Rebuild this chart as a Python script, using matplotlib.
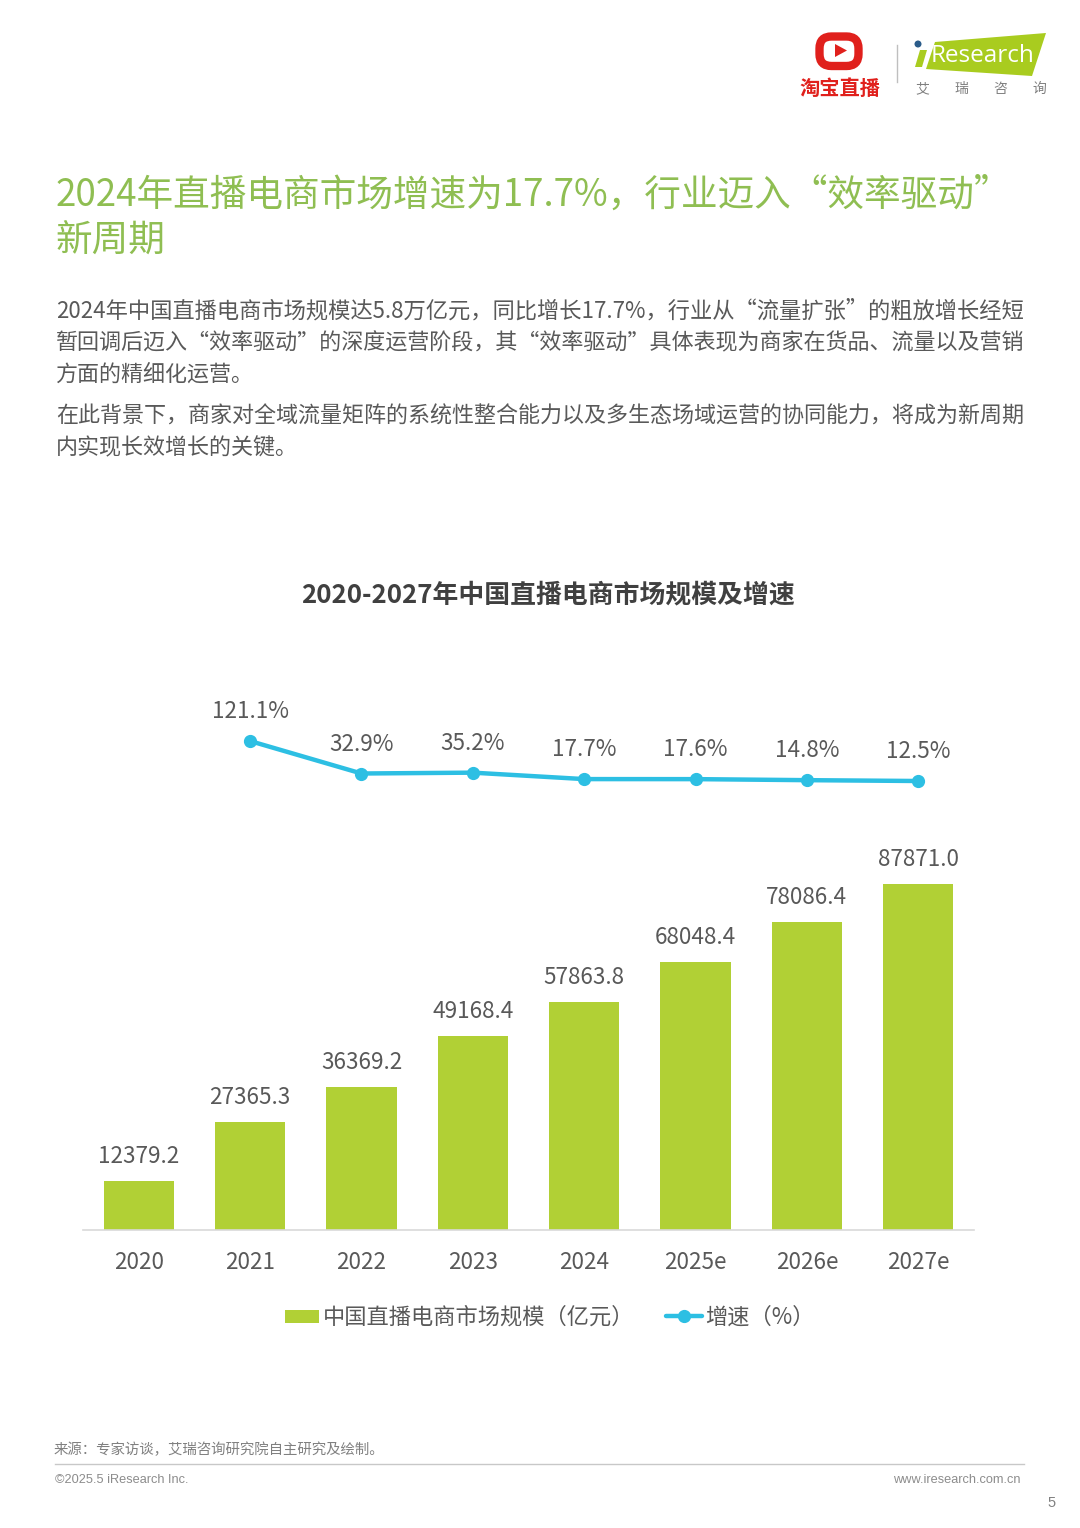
import matplotlib
matplotlib.use('Agg')
import matplotlib.pyplot as plt
from matplotlib.patches import FancyBboxPatch, Polygon, Circle

plt.rcParams['font.family'] = ['Noto Sans CJK SC', 'DejaVu Sans']

years = ['2020', '2021', '2022', '2023', '2024', '2025e', '2026e', '2027e']
market_size = [12379.2, 27365.3, 36369.2, 49168.4, 57863.8, 68048.4, 78086.4, 87871.0]
growth = [None, 121.1, 32.9, 35.2, 17.7, 17.6, 14.8, 12.5]

title_lines = ['2024年直播电商市场增速为17.7%，行业迈入“效率驱动”', '新周期']
body_lines = [
    '2024年中国直播电商市场规模达5.8万亿元，同比增长17.7%，行业从“流量扩张”的粗放增长经短',
    '暂回调后迈入“效率驱动”的深度运营阶段，其“效率驱动”具体表现为商家在货品、流量以及营销',
    '方面的精细化运营。',
    '在此背景下，商家对全域流量矩阵的系统性整合能力以及多生态场域运营的协同能力，将成为新周期',
    '内实现长效增长的关键。',
]
body_y = [318, 349, 381, 423, 454]
body_size = [16.05, 15.89, 15.86, 15.86, 15.86]
chart_title = '2020-2027年中国直播电商市场规模及增速'
legend_bar = '中国直播电商市场规模（亿元）'
legend_line = '增速（%）'
source = '来源：专家访谈，艾瑞咨询研究院自主研究及绘制。'

W, H = 1080, 1528
GREEN, BLUE, GREY = '#B1D035', '#2DBFE3', '#595959'
RED = '#E0201C'
fig = plt.figure(figsize=(W / 100, H / 100), dpi=100, facecolor='white')

# page overlay in pixel coordinates
pg = fig.add_axes([0, 0, 1, 1])
pg.set_xlim(0, W)
pg.set_ylim(H, 0)
pg.axis('off')

# title and body
for s, y in zip(title_lines, [206, 251]):
    pg.text(56, y, s, fontsize=26.4, color='#8FBE52', va='baseline', ha='left')
for s, y, fs in zip(body_lines, body_y, body_size):
    pg.text(56, y, s, fontsize=fs, color=GREY, va='baseline', ha='left')
pg.text(548, 595, chart_title, fontsize=18.6, color='#404040', fontweight='bold', va='center', ha='center')

# logos
pg.add_patch(FancyBboxPatch((819.5, 36.5), 39, 29.5, boxstyle='round,pad=0,rounding_size=12',
                            fc='white', ec=RED, lw=6))
pg.add_patch(Polygon([[835, 44], [835, 57], [847, 50.5]], fc=RED, ec='none'))
pg.text(840, 88, '淘宝直播', fontsize=14.6, color=RED, fontweight='bold', va='center', ha='center')
pg.plot([896.5, 896.5], [45, 82], color='#BFBFBF', lw=1)
pg.add_patch(Polygon([[935, 42], [1046, 33], [1032, 76], [926, 69]], fc='#A9CC1F', ec='none'))
pg.add_patch(Polygon([[915, 67], [922, 67], [927, 50], [920, 50]], fc='#A9CC1F', ec='none'))
pg.add_patch(Circle((918, 44), 3.5, fc='#2B5C8A', ec='none'))
pg.text(931, 56, 'Research', fontsize=17.5, color='white', family='Open Sans', va='center', ha='left')
for s, x in zip('艾瑞咨询', [922, 961, 1000, 1039]):
    pg.text(x, 89, s, fontsize=10, color='#7F7F7F', va='center', ha='center')

# bars
ax = fig.add_axes([83 / W, 1 - 1230 / H, 891 / W, 393.8 / H], facecolor='none')
ax.bar(range(len(years)), market_size, width=0.63, color=GREEN)
ax.set_xlim(-0.5, len(years) - 0.5)
ax.set_ylim(0, 100000)
for i, v in enumerate(market_size):
    ax.annotate(f'{v:.1f}', (i, v), xytext=(0, 13), textcoords='offset pixels',
                ha='center', va='bottom', fontsize=16.2, color=GREY)
ax.set_xticks(range(len(years)), years)
ax.tick_params(axis='x', length=0, pad=15, labelsize=16.2, labelcolor=GREY)
ax.set_yticks([])
for k in ['top', 'left', 'right']:
    ax.spines[k].set_visible(False)
ax.spines['bottom'].set_color('#D9D9D9')
ax.spines['bottom'].set_linewidth(1.2)

# line
lx = fig.add_axes([83 / W, 1 - 800 / H, 891 / W, 100 / H], facecolor='none')
xs = [i for i, g in enumerate(growth) if g is not None]
ys = [growth[i] for i in xs]
lx.plot(xs, ys, color=BLUE, lw=3.2, marker='o', ms=8.5, solid_capstyle='round')
lx.set_xlim(-0.5, len(years) - 0.5)
lx.set_ylim(-39.1, 232.6)
lx.axis('off')
for x, v in zip(xs, ys):
    lx.annotate(f'{v:.1f}%', (x, v), xytext=(0, 18), textcoords='offset pixels',
                ha='center', va='bottom', fontsize=16.2, color=GREY, annotation_clip=False)

# legend, hand placed to the reference's layout
pg.add_patch(Polygon([[285, 1310], [319, 1310], [319, 1323], [285, 1323]], fc=GREEN, ec='none'))
pg.text(323, 1317, legend_bar, fontsize=16, color=GREY, va='center', ha='left')
pg.plot([666, 702], [1316, 1316], color=BLUE, lw=3.2, solid_capstyle='round')
pg.plot([684], [1316], color=BLUE, marker='o', ms=8.5)
pg.text(705, 1317, legend_line, fontsize=16, color=GREY, va='center', ha='left')

# footer
pg.text(54, 1449.5, source, fontsize=10.4, color='#808080', va='center', ha='left')
pg.plot([55, 1024], [1464, 1464], color='#C8C8C8', lw=1)
pg.text(55, 1480, '©2025.5 iResearch Inc.', fontsize=9.2, color='#8C8C8C', family='Liberation Sans', va='center', ha='left')
pg.text(1021, 1480, 'www.iresearch.com.cn', fontsize=9.2, color='#8C8C8C', family='Liberation Sans', va='center', ha='right')
pg.text(1052, 1503, '5', fontsize=10.5, color='#808080', family='Liberation Sans', va='center', ha='center')

fig.savefig('out.png', dpi=100)
